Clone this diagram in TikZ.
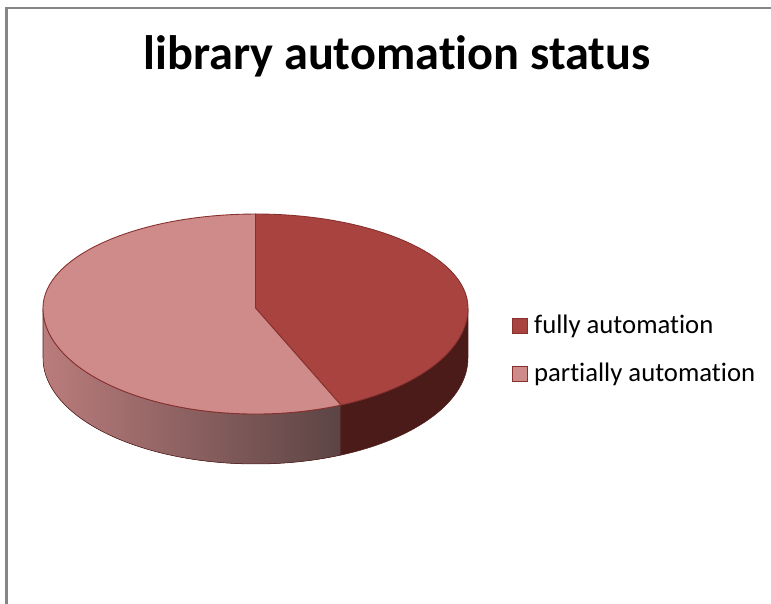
\documentclass[tikz,border=0pt]{standalone}
\usepackage{fontspec}
\setmainfont{Carlito}[Ligatures=NoCommon]
\usetikzlibrary{positioning,shadings}
\definecolor{fullclr}{RGB}{169,67,64}
\definecolor{partclr}{RGB}{207,139,138}
\definecolor{fullside}{RGB}{74,27,24}
\definecolor{partsidel}{RGB}{186,124,124}
\definecolor{partsider}{RGB}{92,68,68}
\definecolor{edgeclr}{RGB}{135,48,46}
\definecolor{frameclr}{RGB}{134,134,134}
\tikzset{
  %% top face of a slice
  topface/.style={draw=edgeclr,line width=0.5pt,fill=#1},
  %% rim of a slice
  rimface/.style={draw=edgeclr!60!black,line width=0.3pt},
  %% legend key and label
  keybox/.style={rectangle,draw=edgeclr,fill=#1,minimum size=0.29cm,
    inner sep=0pt,line width=0.6pt},
  keytxt/.style={font=\fontsize{15.2}{18}\selectfont,inner sep=0pt},
  ttl/.style={font=\fontsize{27.5}{32}\selectfont\bfseries},
}

\begin{document}
\begin{tikzpicture}[x=0.02cm,y=0.02cm]
  \useasboundingbox (0,0) rectangle (771,604);
  \draw[frameclr,line width=1.2pt] (6.5,-5) -- (6.5,596) -- (780,596);

  \node[ttl] (title) at (397,548) {library automation status};

  %% pie: rims first, then top faces
  \coordinate (ctr) at (255.5,296);
  \coordinate (lft) at (43,296);
  \coordinate (cut) at (340.9,198.9);
  \coordinate (top) at (255.5,390);
  \fill[rimface,left color=partsidel,right color=partsider]
    (lft) arc[start angle=180,end angle=293.7,x radius=212.5,y radius=106]
    -- ++(0,-50) arc[start angle=293.7,end angle=180,x radius=212.5,y radius=106] -- cycle;
  \filldraw[rimface,fill=fullside]
    (cut) arc[start angle=293.7,end angle=360,x radius=212.5,y radius=106]
    -- ++(0,-50) arc[start angle=360,end angle=293.7,x radius=212.5,y radius=106] -- cycle;
  \draw[rimface] (cut) -- ++(0,-50);
  \draw[topface=fullclr] (ctr) -- (top)
    arc[start angle=90,end angle=0,x radius=212.5,y radius=94]
    arc[start angle=0,end angle=-66.3,x radius=212.5,y radius=106] -- cycle;
  \draw[topface=partclr] (ctr) -- (cut)
    arc[start angle=-66.3,end angle=-180,x radius=212.5,y radius=106]
    arc[start angle=180,end angle=90,x radius=212.5,y radius=94] -- cycle;

  %% legend
  \node[keybox=fullclr] (kfull) at (520,278) {};
  \node[keytxt,right=0.12cm of kfull] (lfull) {fully automation};
  \node[keybox=partclr] (kpart) at (520,230) {};
  \node[keytxt,right=0.12cm of kpart] (lpart) {partially automation};
\end{tikzpicture}
\end{document}
